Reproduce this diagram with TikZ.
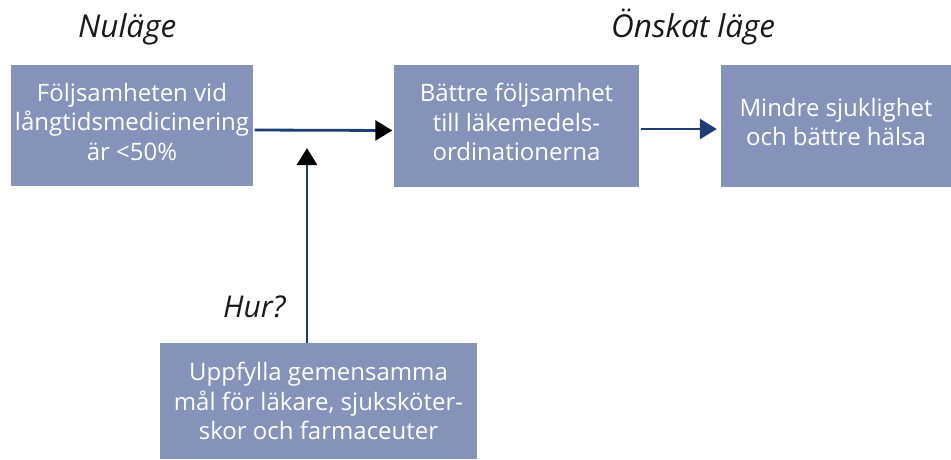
\documentclass[tikz,border=0pt]{standalone}
\usepackage{fontspec}
\setmainfont{Open Sans}
\usetikzlibrary{arrows.meta}
\definecolor{boxblue}{HTML}{8593BA}
\definecolor{navy}{HTML}{1C3E74}
\tikzset{
  box/.style={rectangle, fill=boxblue, draw=none, text=white, align=center,
    inner sep=0pt, font=\fontsize{24}{29.5}\selectfont},
  title/.style={font=\fontsize{31.5}{36}\selectfont\itshape, text=black!90, anchor=base west, inner sep=0pt},
  conn/.style={draw=navy, line width=2.8pt},
  blacktip/.style={-{Triangle[length=17pt,width=20pt,color=black]}},
  navytip/.style={-{Triangle[length=17pt,width=20pt,color=navy]}},
}
\begin{document}
\begin{tikzpicture}[x=1pt,y=-1pt]
\useasboundingbox (0,0) rectangle (951,459);
\node[box, minimum width=242pt, minimum height=121pt] (b1) at (132,125.5)
  {Följsamheten vid\\långtidsmedicinering\\är <50\%\rule[-8pt]{0pt}{1pt}};
\node[box, minimum width=245pt, minimum height=122pt] (b2) at (516.5,126)
  {Bättre följsamhet\\till läkemedels-\\ordinationerna\rule[-8pt]{0pt}{1pt}};
\node[box, minimum width=230pt, minimum height=122pt] (b3) at (836,126)
  {Mindre sjuklighet\\och bättre hälsa\rule[-8pt]{0pt}{1pt}};
\node[box, minimum width=317pt, minimum height=116pt] (b4) at (318.5,401)
  {Uppfylla gemensamma\\mål för läkare, sjuksköter-\\skor och farmaceuter};
\node[title] (t1) at (78,37) {Nuläge};
\node[title] (t2) at (611,37) {Önskat läge};
\node[title, font=\fontsize{30}{36}\selectfont\itshape] (t3) at (223,317) {Hur?};
\coordinate (j) at (307,148);
\draw[conn, blacktip, shorten <=1.5pt, shorten >=1.5pt] ([yshift=-4.5pt]b1.east) -- ([yshift=-4.5pt]b2.west);
\draw[conn, navytip, shorten <=2pt, shorten >=4pt] ([yshift=-3pt]b2.east) -- ([yshift=-3pt]b3.west);
\draw[conn, blacktip] (b4.north -| j) -- (j);
\end{tikzpicture}
\end{document}
